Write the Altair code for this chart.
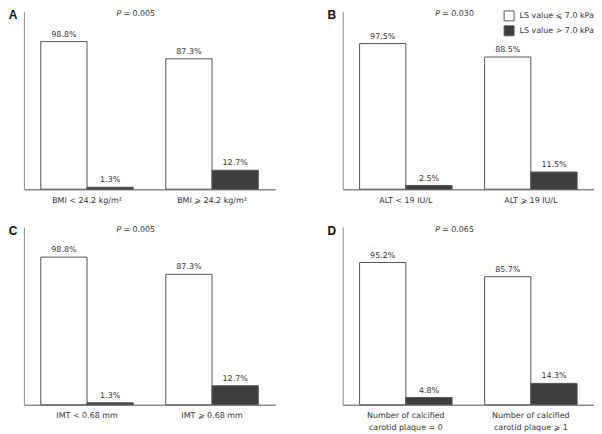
import altair as alt
import pandas as pd

series_names = ["LS value ⩽ 7.0 kPa", "LS value > 7.0 kPa"]

cats_a = ["BMI < 24.2 kg/m²", "BMI ⩾ 24.2 kg/m²"]
low_a = [98.8, 87.3]
high_a = [1.3, 12.7]

cats_b = ["ALT < 19 IU/L", "ALT ⩾ 19 IU/L"]
low_b = [97.5, 88.5]
high_b = [2.5, 11.5]

cats_c = ["IMT < 0.68 mm", "IMT ⩾ 0.68 mm"]
low_c = [98.8, 87.3]
high_c = [1.3, 12.7]

cats_d = ["Number of calcified|carotid plaque = 0", "Number of calcified|carotid plaque ⩾ 1"]
low_d = [95.2, 85.7]
high_d = [4.8, 14.3]

p_values = ["0.005", "0.030", "0.005", "0.065"]
panel_ids = ["A", "B", "C", "D"]

FONT = "DejaVu Sans"
TXT = "#333333"
AXC = "#8a8a8a"
W, H = 253, 179


def panel(pid, cats, low, high, pval):
    df = pd.DataFrame({
        "group": cats + cats,
        "series": [series_names[0]] * 2 + [series_names[1]] * 2,
        "value": low + high,
    })
    df["label"] = [f"{v}%" for v in df["value"]]
    base = alt.Chart(df).encode(
        x=alt.X("group:N", sort=cats,
                scale=alt.Scale(paddingInner=0.26, paddingOuter=0.135),
                axis=alt.Axis(title=None, labelAngle=0, ticks=False, domainColor=AXC,
                              domainWidth=1.5, labelPadding=7, labelFontSize=8,
                              labelColor=TXT, labelFont=FONT, labelLineHeight=12,
                              labelExpr="split(datum.label, '|')")),
        xOffset=alt.XOffset("series:N", sort=series_names,
                            scale=alt.Scale(paddingInner=0, paddingOuter=0)),
        y=alt.Y("value:Q", scale=alt.Scale(domain=[0, 119], nice=False),
                axis=alt.Axis(title=None, labels=False, ticks=False, grid=False,
                              domainColor=AXC, domainWidth=1)),
    )
    bars = base.mark_bar(stroke="#555555", strokeWidth=1).encode(
        fill=alt.Fill("series:N", sort=series_names,
                      scale=alt.Scale(domain=series_names, range=["#ffffff", "#3d3d3d"]),
                      legend=alt.Legend(title=None, orient="none", legendX=483, legendY=-1,
                                        symbolType="square", symbolSize=100,
                                        symbolStrokeColor="#555555", symbolStrokeWidth=1,
                                        labelFont=FONT, labelFontSize=8, labelColor=TXT,
                                        rowPadding=0, padding=0, labelOffset=5)),
    )
    texts = base.mark_text(dy=-7, fontSize=8, font=FONT, color=TXT).encode(text="label:N")
    one = pd.DataFrame({"k": [pid]})
    letter = alt.Chart(one).mark_text(font="Liberation Sans", fontWeight="bold", fontSize=12,
                                      color="#111111").encode(
        x=alt.value(-11), y=alt.value(4), text=alt.value(pid))
    pitalic = alt.Chart(one).mark_text(font=FONT, fontStyle="italic", fontSize=8, color=TXT,
                                       align="right").encode(
        x=alt.value(98), y=alt.value(3), text=alt.value("P"))
    prest = alt.Chart(one).mark_text(font=FONT, fontSize=8, color=TXT, align="left").encode(
        x=alt.value(100), y=alt.value(3), text=alt.value("= " + pval))
    return alt.layer(bars, texts, letter, pitalic, prest).properties(width=W, height=H)


pa = panel("A", cats_a, low_a, high_a, p_values[0])
pb = panel("B", cats_b, low_b, high_b, p_values[1])
pc = panel("C", cats_c, low_c, high_c, p_values[2])
pd_ = panel("D", cats_d, low_d, high_d, p_values[3])

chart = alt.concat(pa, pb, pc, pd_, columns=2, spacing={"row": 38, "column": 68},
                   bounds="flush").properties(
    padding={"left": 0, "top": 0, "right": 0, "bottom": 0},
).configure(font=FONT).configure_view(strokeWidth=0, stroke=None)

chart.save("out.html", embed_options={"renderer": "svg", "actions": False})
